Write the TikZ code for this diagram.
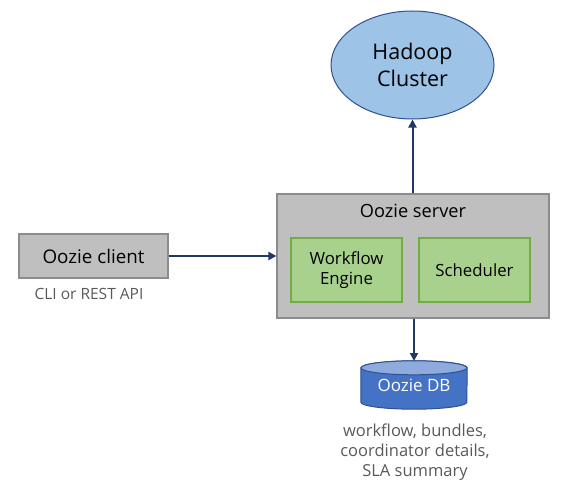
\documentclass[tikz,border=0pt]{standalone}
\usepackage{fontspec}
\setmainfont{Open Sans}
\usetikzlibrary{arrows.meta,shapes.geometric,backgrounds}
\definecolor{navy}{HTML}{203864}
\definecolor{boxgray}{HTML}{BFBFBF}
\definecolor{boxedge}{HTML}{8C8C8C}
\definecolor{greenfill}{HTML}{A9D18E}
\definecolor{greenedge}{HTML}{70AD47}
\definecolor{cloudfill}{HTML}{9DC3E6}
\definecolor{cloudedge}{HTML}{2F528F}
\definecolor{dbfill}{HTML}{4472C4}
\definecolor{dbtop}{HTML}{8FAADC}
\definecolor{labelgray}{HTML}{595959}
\tikzset{
  graybox/.style={draw=boxedge,fill=boxgray,line width=1.2pt,inner sep=0pt},
  greenbox/.style={draw=greenedge,fill=greenfill,line width=1.2pt,inner sep=0pt,minimum width=111pt,minimum height=64pt,align=center,font=\fontsize{16.8}{20}\selectfont},
  cloud/.style={ellipse,draw=cloudedge,fill=cloudfill,line width=1pt,inner sep=0pt,minimum width=163pt,minimum height=108pt,align=center,font=\fontsize{21.5}{26.5}\selectfont},
  link/.style={draw=navy,line width=2pt,-{Triangle[length=8pt,width=8pt]}},
  note/.style={text=labelgray,align=center,inner sep=0pt,font=\fontsize{15.5}{20}\selectfont},
}
\begin{document}
\begin{tikzpicture}[x=1pt,y=-1pt]
\useasboundingbox (0,0) rectangle (580,492);
\node[cloud] (hadoop) at (412.5,65) {Hadoop\\Cluster};
\node[graybox,minimum width=272pt,minimum height=124pt] (server) at (413,256) {};
\node[inner sep=0pt,font=\fontsize{18.2}{20}\selectfont] (servertitle) at (413,211) {Oozie server};
\node[greenbox] (wf) at (346.5,270) {Workflow\\Engine};
\node[greenbox] (sched) at (474.5,270) {Scheduler};
\node[graybox,minimum width=149pt,minimum height=44pt,font=\fontsize{18.8}{20}\selectfont] (client) at (93.5,256) {Oozie client};
\node[note] (cli) at (89,294) {CLI or REST API};
\node[inner sep=0pt,minimum width=106pt,minimum height=34pt,text=white,font=\fontsize{17}{20}\selectfont] (db) at (414,385) {Oozie DB};
\begin{scope}[on background layer]
\draw[draw=cloudedge,fill=dbfill,line width=1pt] (db.north west) -- (db.south west) arc[start angle=180,end angle=360,x radius=53pt,y radius=7pt] -- (db.north east) arc[start angle=0,end angle=180,x radius=53pt,y radius=7pt] -- cycle;
\draw[draw=cloudedge,fill=dbtop,line width=1pt] (db.north) ellipse[x radius=53pt,y radius=7pt];
\end{scope}
\coordinate (dbtopedge) at (414,361);
\node[note,font=\fontsize{16.5}{20}\selectfont] (dbnote) at (415,452) {workflow, bundles,\\coordinator details,\\SLA summary};
\draw[link] (server.north -| hadoop) -- (hadoop.south);
\draw[link] (client.east) -- (server.west |- client.east);
\draw[link] (server.south -| dbtopedge) -- (dbtopedge);
\end{tikzpicture}
\end{document}
